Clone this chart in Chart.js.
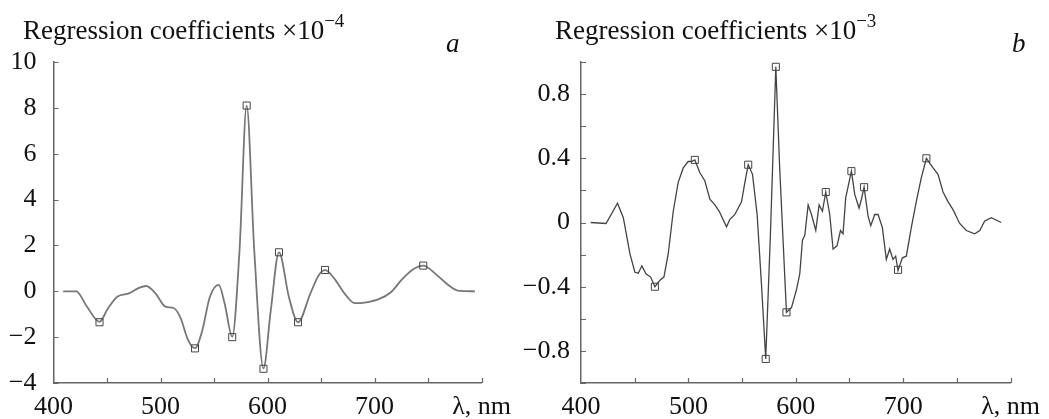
<!DOCTYPE html>
<html>
<head>
<meta charset="utf-8">
<script src="https://cdn.jsdelivr.net/npm/chart.js@4/dist/chart.umd.min.js"></script>
<style>
  body { margin: 0; background: #fff; }
  .panel { position: absolute; top: 0; height: 419px; }
</style>
</head>
<body>
<div class="panel" style="left:0;width:520px"><canvas id="chartA"></canvas></div>
<div class="panel" style="left:520px;width:529px"><canvas id="chartB"></canvas></div>
<script>
// panel a : wavelength (nm) and regression coefficients (x1e-4)
var waveA = [409, 421.4, 430.6, 443, 450.6, 459.8, 470.6, 479.9, 486.6, 495.3, 504.5, 512.2, 518.4, 526, 532.2, 539, 546, 554.4, 560, 567, 573.8, 580.5, 587.6, 596.2, 603, 610.7, 620, 628.5, 639.9, 647.6, 653.7, 661.5, 672.2, 681.4, 692.2, 704.5, 715.3, 726.1, 736.8, 745.5, 756.9, 767.7, 777.8, 793.8];
var coefA = [0, 0, -0.62, -1.33, -0.77, -0.23, -0.09, 0.15, 0.23, -0.09, -0.67, -0.73, -1.13, -2.15, -2.48, -1.71, -0.26, 0.28, -0.55, -1.98, 1.77, 8.1, 1.77, -3.36, -0.84, 1.7, -0.26, -1.35, -0.11, 0.68, 0.92, 0.61, -0.11, -0.52, -0.48, -0.33, -0.04, 0.54, 0.98, 1.12, 0.76, 0.32, 0.03, 0];
var markWaveA = [443, 532.2, 567, 580.5, 596.2, 610.7, 628.5, 653.7, 745.5];
var markCoefA = [-1.35, -2.49, -2.0, 8.1, -3.38, 1.7, -1.35, 0.93, 1.12];

// panel b : wavelength (nm) and regression coefficients (x1e-3)
var waveB = [409, 423.3, 434, 439.4, 445.6, 450.2, 453.3, 456.7, 460.5, 464.8, 468.8, 473.5, 477.2, 481.2, 485.9, 490.5, 495.2, 499.8, 503, 506, 510.7, 515.3, 520, 524.7, 528.7, 535.5, 538.6, 543.3, 546.4, 549.5, 552.6, 555.7, 559.7, 564, 568, 572, 576.4, 581.4, 585, 591.3, 596, 600.6, 603.7, 606.2, 608.4, 611.5, 614.6, 618.6, 621.7, 624.8, 627.9, 631.6, 634.7, 638.4, 641.6, 644, 646.5, 651.8, 654.9, 658.9, 661.1, 663.6, 667.3, 669.8, 673.5, 676.6, 680.6, 684.3, 687.4, 690.5, 693, 695.2, 699.2, 702.9, 707.6, 712.2, 716.9, 721.6, 727.8, 732.4, 737.1, 741.7, 746.4, 752.6, 758.8, 766.6, 771.3, 775.9, 782.1, 791.3];
var coefB = [0, -0.006, 0.12, 0.03, -0.196, -0.31, -0.316, -0.27, -0.32, -0.34, -0.4, -0.36, -0.34, -0.196, 0.07, 0.25, 0.34, 0.38, 0.38, 0.39, 0.31, 0.26, 0.145, 0.11, 0.07, -0.027, 0.02, 0.05, 0.09, 0.13, 0.25, 0.36, 0.3, 0.05, -0.38, -0.85, -0.07, 0.97, 0.34, -0.56, -0.53, -0.42, -0.32, -0.11, -0.08, 0.11, 0.05, -0.05, 0.11, 0.07, 0.19, 0.05, -0.165, -0.145, -0.05, -0.07, 0.155, 0.32, 0.175, 0.09, 0.145, 0.22, 0.04, -0.02, 0.05, 0.05, -0.03, -0.23, -0.165, -0.23, -0.21, -0.3, -0.22, -0.21, -0.03, 0.13, 0.28, 0.4, 0.34, 0.3, 0.19, 0.13, 0.08, -0.006, -0.05, -0.07, -0.05, 0.01, 0.03, 0];
var markWaveB = [468.8, 506, 555.7, 572, 581.4, 591.3, 627.9, 651.8, 663.6, 695.2, 721.6];
var markCoefB = [-0.4, 0.39, 0.36, -0.85, 0.97, -0.56, 0.19, 0.32, 0.22, -0.295, 0.4];

var xTicks = [400, 500, 600, 700];
var xEndLabel = 'λ, nm';
var labelsB = [-0.8, -0.4, 0, 0.4, 0.8];

var serif = "'Liberation Serif', 'Times New Roman', serif";

function pts(xs, ys) {
  var out = [];
  for (var i = 0; i < xs.length; i++) out.push({x: xs[i], y: ys[i]});
  return out;
}
function minus(v) {
  return String(v).replace('-', '\u2212');
}

// 안쪽으로 향하는 눈금 + 제목, 패널 글자
var decor = {
  id: 'decor',
  afterDraw: function(chart) {
    var o = chart.options.plugins.decor;
    var ctx = chart.ctx;
    var xs = chart.scales.x, ys = chart.scales.y;
    var a = chart.chartArea;
    ctx.save();
    ctx.strokeStyle = '#666';
    ctx.lineWidth = 1.2;
    ctx.beginPath();
    xs.ticks.forEach(function(t) {
      if (t.value <= 400) return;
      var px = Math.round(xs.getPixelForValue(t.value)) + 0.5;
      ctx.moveTo(px, a.bottom);
      ctx.lineTo(px, a.bottom - 5);
    });
    ys.ticks.forEach(function(t) {
      var py = Math.round(ys.getPixelForValue(t.value)) + 0.5;
      ctx.moveTo(a.left, py);
      ctx.lineTo(a.left + 5, py);
    });
    ctx.stroke();

    ctx.fillStyle = '#111';
    ctx.textBaseline = 'alphabetic';
    ctx.font = '27px ' + serif;
    ctx.fillText(o.title, o.tx, o.ty);
    var w = ctx.measureText(o.title).width;
    ctx.font = '19px ' + serif;
    ctx.fillText(o.sup, o.tx + w, o.ty - 12);
    ctx.font = 'italic 27px ' + serif;
    ctx.fillText(o.letter, o.lx, o.ly);
    ctx.restore();
  }
};

function makeChart(id, line, marks, opt) {
  return new Chart(document.getElementById(id), {
    type: 'scatter',
    data: {
      datasets: [
        {
          data: marks,
          showLine: false,
          pointStyle: 'rect',
          pointRadius: 5,
          borderColor: '#444',
          borderWidth: 1,
          backgroundColor: 'rgba(255,255,255,0)'
        },
        {
          data: line,
          showLine: true,
          pointRadius: 0,
          borderColor: opt.lineColor,
          borderWidth: opt.lineWidth,
          cubicInterpolationMode: opt.smooth ? 'monotone' : 'default',
          tension: 0
        }
      ]
    },
    options: {
      responsive: true,
      maintainAspectRatio: false,
      animation: false,
      layout: { padding: { left: 0, top: 62, right: opt.padRight, bottom: 0 } },
      plugins: {
        legend: { display: false },
        tooltip: { enabled: false },
        decor: opt.decor
      },
      scales: {
        x: {
          type: 'linear',
          min: 400, max: 800,
          afterFit: function(s) { s.height = 36; },
          grid: { display: false, drawTicks: false },
          border: { display: true, color: '#666', width: 1.5 },
          ticks: {
            stepSize: 50,
            autoSkip: false,
            maxRotation: 0,
            padding: 9,
            color: '#111',
            font: { family: serif, size: 26 },
            callback: function(v) {
              if (v === 800) return xEndLabel;
              return xTicks.indexOf(v) >= 0 ? String(v) : '';
            }
          }
        },
        y: {
          min: opt.yMin, max: opt.yMax,
          afterFit: function(s) { s.width = opt.yWidth; },
          grid: { display: false, drawTicks: false },
          border: { display: true, color: '#666', width: 1.5 },
          ticks: {
            stepSize: opt.yStep,
            autoSkip: false,
            padding: opt.yPad,
            color: '#111',
            font: { family: serif, size: 26 },
            callback: opt.yLabel
          }
        }
      }
    },
    plugins: [decor]
  });
}

makeChart('chartA', pts(waveA, coefA), pts(markWaveA, markCoefA), {
  lineColor: '#777', lineWidth: 1.8, smooth: true,
  padRight: 31, yWidth: 53.5, yPad: 17,
  yMin: -4, yMax: 10, yStep: 2,
  yLabel: function(v) { return minus(v); },
  decor: { title: 'Regression coefficients \u00d710', sup: '\u22124', tx: 23, ty: 39, letter: 'a', lx: 446, ly: 52 }
});

makeChart('chartB', pts(waveB, coefB), pts(markWaveB, markCoefB), {
  lineColor: '#444', lineWidth: 1.3, smooth: false,
  padRight: 38, yWidth: 61, yPad: 11,
  yMin: -1, yMax: 1, yStep: 0.2,
  yLabel: function(v) {
    var r = Math.round(v * 10) / 10;
    return labelsB.indexOf(r) >= 0 ? minus(r) : '';
  },
  decor: { title: 'Regression coefficients \u00d710', sup: '\u22123', tx: 35, ty: 39, letter: 'b', lx: 492, ly: 52 }
});
</script>
</body>
</html>
